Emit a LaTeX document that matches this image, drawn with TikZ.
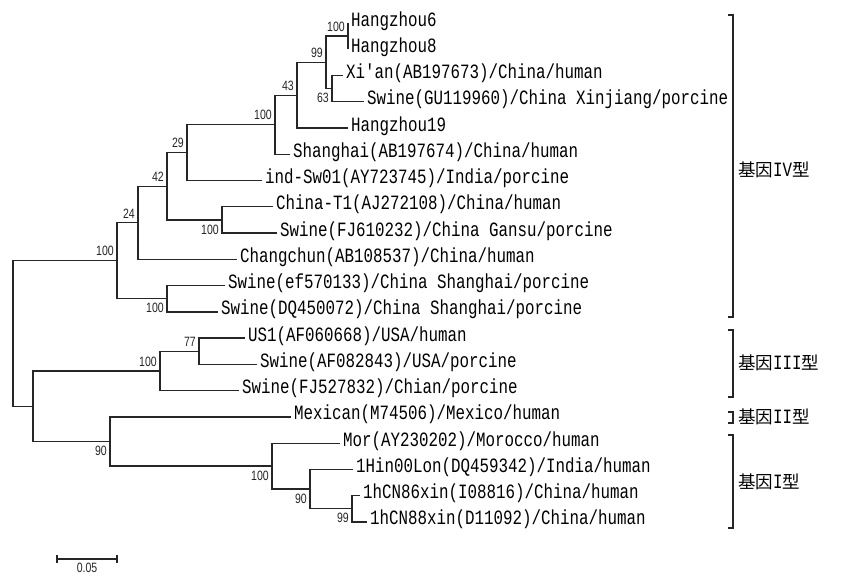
\documentclass[tikz,border=0pt]{standalone}
\usepackage{fontspec}
\setmonofont{Liberation Mono}[FakeStretch=0.78]
\newfontfamily\bootfont{Liberation Sans}[FakeStretch=0.78]
\newfontfamily\cjk{Noto Sans CJK SC}
\usetikzlibrary{calc}

\begin{document}
\begin{tikzpicture}[x=1pt, y=-1pt,
    ast/.style={line width=1.3pt, black!85},
    blatt/.style={anchor=west, inner sep=3pt, text=black,
        font=\ttfamily\fontsize{20.3}{22}\selectfont, text height=0.7em, text depth=0.1em},
    boot/.style={inner sep=1pt, text=black!85, font=\bootfont\fontsize{13.5}{14}\selectfont},
    bootO/.style={boot, anchor=south east, xshift=-2pt, yshift=3.5pt},
    bootU/.style={boot, anchor=north east, xshift=-2pt, yshift=-3.5pt},
    typ/.style={anchor=west, inner sep=0pt, text=black, font=\fontsize{17.5}{20}\selectfont}
]
    \useasboundingbox (0,0) rectangle (843,576);

    % 1. Blaetter (Sequenzen)
    \node[blatt] (HZ6)   at (348, 23.0) {Hangzhou6};
    \node[blatt] (HZ8)   at (348, 49.3) {Hangzhou8};
    \node[blatt] (XiAn)  at (343, 75.5) {Xi'an(AB197673)/China/human};
    \node[blatt] (SwGU)  at (364,101.8) {Swine(GU119960)/China Xinjiang/porcine};
    \node[blatt] (HZ19)  at (348,128.0) {Hangzhou19};
    \node[blatt] (SH)    at (290,154.3) {Shanghai(AB197674)/China/human};
    \node[blatt] (IndSw) at (262,180.6) {ind-Sw01(AY723745)/India/porcine};
    \node[blatt] (CT1)   at (273,206.8) {China-T1(AJ272108)/China/human};
    \node[blatt] (SwGS)  at (277,233.1) {Swine(FJ610232)/China Gansu/porcine};
    \node[blatt] (CC)    at (237,259.3) {Changchun(AB108537)/China/human};
    \node[blatt] (SwEF)  at (225,285.6) {Swine(ef570133)/China Shanghai/porcine};
    \node[blatt] (SwDQ)  at (218,311.9) {Swine(DQ450072)/China Shanghai/porcine};
    \node[blatt] (US1)   at (245,338.1) {US1(AF060668)/USA/human};
    \node[blatt] (SwAF)  at (257,364.4) {Swine(AF082843)/USA/porcine};
    \node[blatt] (SwFJ)  at (239,390.6) {Swine(FJ527832)/Chian/porcine};
    \node[blatt] (Mex)   at (291,416.9) {Mexican(M74506)/Mexico/human};
    \node[blatt] (Mor)   at (340,443.2) {Mor(AY230202)/Morocco/human};
    \node[blatt] (Hin)   at (353,469.4) {1Hin00Lon(DQ459342)/India/human};
    \node[blatt] (CN86)  at (360,495.7) {1hCN86xin(I08816)/China/human};
    \node[blatt] (CN88)  at (367,521.9) {1hCN88xin(D11092)/China/human};

    % 2. Innere Knoten (Verzweigungen)
    \coordinate (kHZ)   at (348, 36.1);
    \coordinate (kXS)   at (332, 88.6);
    \coordinate (k99)   at (326, 62.4);
    \coordinate (k43)   at (297, 95.2);
    \coordinate (k100)  at (275,124.7);
    \coordinate (k29)   at (187,152.7);
    \coordinate (kCT)   at (222,220.0);
    \coordinate (k42)   at (167,186.3);
    \coordinate (k24)   at (138,222.8);
    \coordinate (kSH)   at (167,298.7);
    \coordinate (kIV)   at (117,260.8);
    \coordinate (k77)   at (199,351.2);
    \coordinate (kIII)  at (160,370.9);
    \coordinate (kCN)   at (352,508.8);
    \coordinate (kHin)  at (310,489.1);
    \coordinate (kI)    at (272,466.1);
    \coordinate (kII)   at (110,441.5);
    \coordinate (kB)    at ( 33,406.2);
    \coordinate (W)     at ( 13,333.5);

    % 3. Aeste
    \draw[ast] (kHZ) |- (HZ6.west);   \draw[ast] (kHZ) |- (HZ8.west);
    \draw[ast] (kXS) |- (XiAn.west);  \draw[ast] (kXS) |- (SwGU.west);
    \draw[ast] (k99) |- (kHZ);        \draw[ast] (k99) |- (kXS);
    \draw[ast] (k43) |- (k99);        \draw[ast] (k43) |- (HZ19.west);
    \draw[ast] (k100) |- (k43);       \draw[ast] (k100) |- (SH.west);
    \draw[ast] (k29) |- (k100);       \draw[ast] (k29) |- (IndSw.west);
    \draw[ast] (kCT) |- (CT1.west);   \draw[ast] (kCT) |- (SwGS.west);
    \draw[ast] (k42) |- (k29);        \draw[ast] (k42) |- (kCT);
    \draw[ast] (k24) |- (k42);        \draw[ast] (k24) |- (CC.west);
    \draw[ast] (kSH) |- (SwEF.west);  \draw[ast] (kSH) |- (SwDQ.west);
    \draw[ast] (kIV) |- (k24);        \draw[ast] (kIV) |- (kSH);
    \draw[ast] (k77) |- (US1.west);   \draw[ast] (k77) |- (SwAF.west);
    \draw[ast] (kIII) |- (k77);       \draw[ast] (kIII) |- (SwFJ.west);
    \draw[ast] (kCN) |- (CN86.west);  \draw[ast] (kCN) |- (CN88.west);
    \draw[ast] (kHin) |- (Hin.west);  \draw[ast] (kHin) |- (kCN);
    \draw[ast] (kI) |- (Mor.west);    \draw[ast] (kI) |- (kHin);
    \draw[ast] (kII) |- (Mex.west);   \draw[ast] (kII) |- (kI);
    \draw[ast] (kB) |- (kIII);        \draw[ast] (kB) |- (kII);
    \draw[ast] (W) |- (kIV);          \draw[ast] (W) |- (kB);

    % 4. Bootstrap-Werte
    \node[bootO] at (kHZ)  {100};
    \node[bootO] at (k99)  {99};
    \node[bootU] at (kXS)  {63};
    \node[bootO] at (k43)  {43};
    \node[bootO] at (k100) {100};
    \node[bootO] at (k29)  {29};
    \node[bootO] at (k42)  {42};
    \node[bootU] at (kCT)  {100};
    \node[bootO] at (k24)  {24};
    \node[bootO] at (kIV)  {100};
    \node[bootU] at (kSH)  {100};
    \node[bootO] at (k77)  {77};
    \node[bootO] at (kIII) {100};
    \node[bootU] at (kII)  {90};
    \node[bootU] at (kI)   {100};
    \node[bootU] at (kHin) {90};
    \node[bootU] at (kCN)  {99};

    % 5. Genotyp-Klammern
    \draw[ast] (728, 15) -- (733, 15) -- (733,317) -- (728,317);
    \draw[ast] (728,330) -- (733,330) -- (733,397) -- (728,397);
    \draw[ast] (728,412) -- (733,412) -- (733,423) -- (728,423);
    \draw[ast] (728,435) -- (733,435) -- (733,528) -- (728,528);
    \node[typ] (G4) at (738,170) {{\cjk 基因}{\ttfamily\fontsize{20.3}{22}\selectfont IV}{\cjk 型}};
    \node[typ] (G3) at (738,363) {{\cjk 基因}{\ttfamily\fontsize{20.3}{22}\selectfont III}{\cjk 型}};
    \node[typ] (G2) at (738,417) {{\cjk 基因}{\ttfamily\fontsize{20.3}{22}\selectfont II}{\cjk 型}};
    \node[typ] (G1) at (738,482) {{\cjk 基因}{\ttfamily\fontsize{20.3}{22}\selectfont I}{\cjk 型}};

    % 6. Massstab
    \coordinate (sbL) at (57,559);
    \coordinate (sbR) at (117,559);
    \draw[ast, line width=1.1pt] (sbL) -- (sbR);
    \draw[ast, line width=1.1pt] ($(sbL)+(0,-4)$) -- ($(sbL)+(0,4)$);
    \draw[ast, line width=1.1pt] ($(sbR)+(0,-4)$) -- ($(sbR)+(0,4)$);
    \node[boot, anchor=north, inner sep=0pt] at (87,562.5) {0.05};

\end{tikzpicture}
\end{document}
